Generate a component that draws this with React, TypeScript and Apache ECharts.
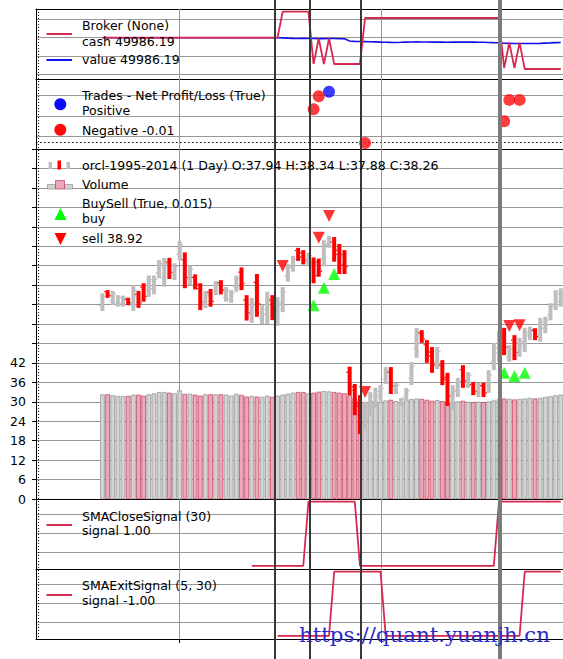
import React, { useEffect, useRef } from "react";
import * as echarts from "echarts";

// ---------------- data ----------------
const opens = [37.53,37.89,37.65,37.59,37.59,37.69,37.59,37.82,38.01,37.93,37.97,38.38,38.25,38.66,38.32,38.86,38.72,38.21,38.26,37.97,37.60,37.87,37.91,38.12,37.74,37.70,38.02,38.40,37.67,37.28,38.13,37.20,37.30,37.67,37.23,37.56,38.29,38.53,38.96,38.90,38.66,38.65,38.66,38.75,39.12,39.18,38.97,38.85,35.79,35.33,35.00,34.51,34.85,35.03,35.17,35.62,35.79,35.32,34.98,35.15,35.64,36.40,36.82,36.51,36.32,36.05,35.98,35.61,35.01,35.30,35.86,35.51,35.47,35.26,35.45,35.44,36.06,36.30,36.81,36.20,36.63,36.35,36.51,36.74,36.88,36.78,36.94,37.28,37.57,37.64];
const highs = [37.85,37.93,37.91,37.80,37.79,37.73,38.06,37.91,38.11,38.31,38.31,38.71,38.77,38.77,38.63,39.21,38.91,38.57,38.34,38.11,37.91,37.96,38.17,38.19,38.01,37.93,38.31,38.52,37.80,37.73,38.35,37.54,37.89,37.80,37.75,38.01,38.61,38.82,39.03,38.97,38.90,38.78,38.75,39.23,39.34,39.31,39.13,38.97,35.94,35.49,35.20,35.03,35.28,35.39,35.46,35.93,35.93,35.52,35.13,35.39,36.06,36.95,36.89,36.63,36.45,36.45,36.11,35.78,35.46,35.65,35.98,35.80,35.54,35.52,35.52,35.85,36.56,36.87,36.95,36.50,36.76,36.69,36.95,36.98,36.94,37.21,37.24,37.59,37.93,37.98];
const lows = [37.39,37.73,37.54,37.50,37.50,37.54,37.39,37.47,37.63,37.76,37.82,38.24,38.02,38.22,38.19,38.71,37.98,38.06,37.95,37.41,37.46,37.50,37.80,37.82,37.63,37.60,37.89,37.93,37.14,37.08,37.24,37.05,37.05,37.15,37.00,37.36,38.15,38.41,38.69,38.60,38.55,38.11,38.28,38.55,39.03,38.67,38.35,38.35,35.20,34.68,34.19,34.29,34.66,34.87,35.05,35.49,35.23,35.23,34.92,35.05,35.46,36.17,36.56,36.04,35.78,35.88,35.46,34.92,34.81,35.15,35.39,35.39,35.20,35.15,35.15,35.26,35.85,36.06,36.24,36.07,36.11,36.20,36.32,36.63,36.63,36.59,36.81,37.15,37.41,37.50];
const closes = [37.76,37.79,37.84,37.74,37.73,37.60,37.93,37.60,37.77,38.20,38.21,38.62,38.62,38.39,38.54,39.11,38.26,38.47,38.07,37.62,37.82,37.64,38.10,37.93,37.93,37.86,38.23,38.11,37.34,37.60,37.57,37.44,37.72,37.35,37.60,37.88,38.52,38.74,38.79,38.71,38.83,38.31,38.42,39.09,39.28,38.86,38.58,38.54,35.42,34.92,34.49,34.88,35.16,35.29,35.38,35.84,35.44,35.46,35.09,35.32,35.94,36.79,36.66,36.22,35.98,36.34,35.66,35.18,35.33,35.55,35.57,35.72,35.30,35.45,35.26,35.73,36.42,36.71,36.45,36.41,36.31,36.59,36.82,36.91,36.72,37.09,37.15,37.50,37.83,37.88];
const volumes = [32.3,32.3,32.0,31.8,31.8,31.8,32.2,32.2,31.9,32.3,32.6,33.0,33.0,32.8,32.6,33.5,32.4,32.5,32.2,31.9,32.3,32.3,32.3,32.3,32.2,31.9,32.5,32.1,31.6,31.8,31.6,31.5,31.9,31.5,31.9,32.2,32.5,32.8,33.0,33.0,32.6,32.8,33.1,33.3,33.2,33.0,32.8,32.6,32.0,31.2,30.0,29.8,29.9,30.2,30.0,30.4,30.6,30.2,30.0,30.5,30.8,31.0,30.9,30.6,30.3,30.5,30.2,29.9,29.9,30.1,30.3,30.0,29.9,30.0,29.9,30.1,30.4,30.8,31.0,30.9,30.7,30.9,31.0,31.2,31.0,31.2,31.5,31.7,32.0,32.2];
const cashValues = [50000,50000,50000,50000,50000,50000,50000,50000,50000,50000,50000,50000,50000,50000,50000,50000,50000,50000,50000,50000,50000,50000,50000,50000,50000,50000,50000,50000,50000,50000,50000,50000,50000,50000,50000,50035.5,50035.5,50035.5,50035.5,50035.5,50035.5,49964.1,49998.9,49964.1,49998.9,49964.1,49964.1,49964.1,49964.1,49964.1,49964.1,50026.9,50026.9,50026.9,50026.9,50026.9,50026.9,50026.9,50026.9,50026.9,50026.9,50026.9,50026.9,50026.9,50026.9,50026.9,50026.9,50026.9,50026.9,50026.9,50026.9,50026.9,50026.9,50026.9,50026.9,50026.9,50026.9,50026.9,49958.7,49993.2,49958.7,49993.2,49957.3,49957.3,49957.3,49957.3,49957.3,49957.3,49957.3,49957.3];
const portfolioValues = [50000,50000,50000,50000,50000,50000,50000,50000,50000,50000,50000,50000,50000,50000,50000,50000,50000,50000,50000,50000,50000,50000,50000,50000,50000,50000,50000,50000,50000,50000,50000,50000,50000,50000,50000,49999.8,49999.4,49999.1,49999.0,49999.2,49999.0,49998.9,49998.8,49998.8,49999.0,49998.9,49998.6,49998.5,49995.5,49995.0,49994.8,49994.7,49994.4,49994.3,49994.0,49993.8,49993.6,49993.5,49993.7,49994.0,49994.2,49994.3,49994.2,49994.1,49994.0,49994.0,49993.9,49993.8,49993.9,49994.0,49994.1,49994.0,49993.9,49993.8,49993.7,49993.5,49993.3,49993.2,49992.4,49992.2,49992.0,49992.1,49992.0,49992.0,49992.1,49992.3,49992.6,49992.9,49993.3,49993.5];
const CLOSE_SIGNAL_START = 29;
const closeSignal = [-1,-1,-1,-1,-1,-1,-1,-1,-1,-1,-1,1,1,1,1,1,1,1,1,1,1,-1,-1,-1,-1,-1,-1,-1,-1,-1,-1,-1,-1,-1,-1,-1,-1,-1,-1,-1,-1,-1,-1,-1,-1,-1,-1,-1,1,1,1,1,1,1,1,1,1,1,1,1,1];
const EXIT_SIGNAL_START = 34;
const exitSignal = [-1,-1,-1,-1,-1,-1,-1,-1,-1,-1,-1,1,1,1,1,1,1,1,1,1,1,-1,-1,-1,-1,-1,-1,-1,-1,-1,-1,-1,-1,-1,-1,-1,-1,-1,-1,-1,-1,-1,-1,-1,-1,-1,-1,-1,1,1,1,1,1,1,1,1];
const buyIdx = [41, 43, 45, 78, 80, 82];
const buyPrice = [37.54, 37.99, 38.35, 35.78, 35.70, 35.78];
const sellIdx = [35, 42, 44, 51, 79, 81];
const sellPrice = [38.56, 39.29, 39.86, 35.28, 37.0, 37.02];
const tradeIdx = [41, 42, 44, 51, 78, 79, 81];
const tradePnl = [-0.99, -0.04, 0.29, -3.46, -1.87, -0.31, -0.31];
const volumeTickLabelMax = 42;
const moneyGridValues = [50025, 50000, 49975, 49950];
const tradeGridValues = [0, -1.5, -3];
const tradeRefLine = -3.41;
const signalGridValues = [0.6, 0, -0.6];
const dateGridIdx = [14.9, 54.2];
const eventLineIdx = [33.5, 40.3, 50.2, 77.2];

// ---------------- styling ----------------
const FONT = '"DejaVu Sans", "Noto Sans", sans-serif';
const FS = 12.5;
const CRIMSON = "#d6294f";
const BLUE = "#1010e8";
const GRID_GRAY = "#979797";
const X_MIN = -12.9;
const X_MAX = 89.43;

const baseX = (g: number, extra: any = {}) => ({
  type: "value",
  gridIndex: g,
  min: X_MIN,
  max: X_MAX,
  axisLine: { show: true, onZero: false, lineStyle: { color: "#000", width: 1 } },
  axisTick: { show: false },
  axisLabel: { show: false },
  splitLine: { show: false },
  ...extra,
});
const plainY = (g: number, min: number, max: number) => ({
  type: "value",
  gridIndex: g,
  min,
  max,
  axisLine: { show: true, onZero: false, lineStyle: { color: "#000", width: 1 } },
  axisTick: { show: false },
  axisLabel: { show: false },
  splitLine: { show: false },
});

const snap = (v: number) => Math.round(v - 0.5) + 0.5;

export default function App() {
  const ref = useRef<HTMLDivElement>(null);
  useEffect(() => {
    const el = ref.current as HTMLDivElement;
    const chart = echarts.init(el, null, { renderer: "svg" });
    const priceData = opens.map((o, i) => [i, o, highs[i], lows[i], closes[i]]);
    const option: any = {
      animation: false,
      backgroundColor: "#fff",
      grid: [
        { left: 36, top: 9, width: 527, height: 70 },
        { left: 36, top: 79, width: 527, height: 70 },
        { left: 36, top: 149, width: 527, height: 350 },
        { left: 36, top: 499, width: 527, height: 70 },
        { left: 36, top: 569, width: 527, height: 70 },
      ],
      xAxis: [baseX(0), baseX(1), baseX(2), baseX(3), baseX(4), baseX(0, { position: "top" })],
      yAxis: [
        plainY(0, 49943.67, 50039.15),
        plainY(1, -3.9, 1.22),
        {
          type: "value",
          gridIndex: 2,
          min: 0,
          max: 108,
          interval: 6,
          axisLine: { show: true, onZero: false, lineStyle: { color: "#000", width: 1 } },
          axisTick: { show: true, inside: false, length: 4, lineStyle: { color: "#000" } },
          axisLabel: {
            show: true,
            margin: 10,
            fontSize: FS,
            fontFamily: FONT,
            color: "#000",
            formatter: (v: number) => (v <= volumeTickLabelMax ? String(v) : ""),
          },
          splitLine: { show: true, lineStyle: { color: GRID_GRAY, width: 1, type: "solid" } },
        },
        { type: "value", gridIndex: 2, min: 32.5, max: 41.6, show: false },
        plainY(3, -1.1, 1.085),
        plainY(4, -1.1, 1.085),
      ],
      series: [
        {
          type: "line",
          xAxisIndex: 0,
          yAxisIndex: 0,
          data: portfolioValues.map((v, i) => [i, v]),
          symbol: "none",
          lineStyle: { color: BLUE, width: 1.6 },
          z: 2,
        },
        {
          type: "line",
          xAxisIndex: 0,
          yAxisIndex: 0,
          data: cashValues.map((v, i) => [i, v]),
          symbol: "none",
          lineStyle: { color: CRIMSON, width: 1.8 },
          z: 3,
        },
        {
          type: "scatter",
          xAxisIndex: 1,
          yAxisIndex: 1,
          data: tradeIdx.map((x, k) => [x, tradePnl[k]]).filter((d) => d[1] > 0),
          symbol: "circle",
          symbolSize: 12,
          itemStyle: { color: "#0a0aff" },
          z: 4,
        },
        {
          type: "scatter",
          xAxisIndex: 1,
          yAxisIndex: 1,
          data: tradeIdx.map((x, k) => [x, tradePnl[k]]).filter((d) => d[1] <= 0),
          symbol: "circle",
          symbolSize: 12,
          itemStyle: { color: "#ff0a0a" },
          z: 4,
        },
        {
          type: "bar",
          xAxisIndex: 2,
          yAxisIndex: 2,
          barWidth: 4.6,
          data: volumes.map((v, i) => {
            const up = closes[i] >= opens[i];
            return {
              value: [i, v],
              itemStyle: up
                ? { color: "#d3d3d3", borderColor: "#8f8f8f", borderWidth: 0.7 }
                : { color: "#eaaab8", borderColor: "#c6385a", borderWidth: 0.7 },
            };
          }),
          z: 2,
        },
        {
          type: "custom",
          xAxisIndex: 2,
          yAxisIndex: 3,
          data: priceData,
          encode: { x: 0, y: [1, 2, 3, 4] },
          renderItem: (params: any, api: any) => {
            const i = api.value(0);
            const o = api.value(1);
            const h = api.value(2);
            const l = api.value(3);
            const c = api.value(4);
            const pH = api.coord([i, h]);
            const pL = api.coord([i, l]);
            const pO = api.coord([i, o]);
            const pC = api.coord([i, c]);
            const color = c >= o ? "#bebebe" : "#ff0000";
            const w = 4;
            return {
              type: "group",
              children: [
                { type: "rect", shape: { x: pH[0] - w / 2, y: pH[1], width: w, height: Math.max(1, pL[1] - pH[1]) }, style: { fill: color } },
                { type: "rect", shape: { x: pO[0] - w / 2 - 1.4, y: pO[1] - 0.6, width: 1.4, height: 1.2 }, style: { fill: color } },
                { type: "rect", shape: { x: pC[0] + w / 2, y: pC[1] - 0.6, width: 1.4, height: 1.2 }, style: { fill: color } },
              ],
            };
          },
          z: 3,
        },
        {
          type: "scatter",
          xAxisIndex: 2,
          yAxisIndex: 3,
          data: buyIdx.map((x, k) => [x, buyPrice[k]]),
          symbol: "triangle",
          symbolSize: [12, 12],
          itemStyle: { color: "#00ff00" },
          z: 5,
        },
        {
          type: "scatter",
          xAxisIndex: 2,
          yAxisIndex: 3,
          data: sellIdx.map((x, k) => [x, sellPrice[k]]),
          symbol: "triangle",
          symbolRotate: 180,
          symbolSize: [12, 12],
          itemStyle: { color: "#ff0000" },
          z: 5,
        },
        {
          type: "line",
          xAxisIndex: 3,
          yAxisIndex: 4,
          data: closeSignal.map((v, k) => [CLOSE_SIGNAL_START + k, v]),
          symbol: "none",
          lineStyle: { color: CRIMSON, width: 1.8 },
          z: 3,
        },
        {
          type: "line",
          xAxisIndex: 4,
          yAxisIndex: 5,
          data: exitSignal.map((v, k) => [EXIT_SIGNAL_START + k, v]),
          symbol: "none",
          lineStyle: { color: CRIMSON, width: 1.8 },
          z: 3,
        },
      ],
    };
    chart.setOption(option);

    const px = (v: number) => chart.convertToPixel({ xAxisIndex: 0 }, v) as number;
    const py = (axis: number, v: number) => chart.convertToPixel({ yAxisIndex: axis }, v) as number;
    const xL = px(X_MIN);
    const xR = px(X_MAX);
    const topY = py(0, 50039.15);
    const botY = py(5, -1.1);
    const H = el.clientHeight;

    const els: any[] = [];
    const hgrid = (yRaw: number) => {
      const y = Math.round(yRaw - 0.5);
      els.push({ type: "rect", silent: true, z: 1, shape: { x: xL + 1, y, width: xR - xL - 1, height: 1 }, style: { fill: GRID_GRAY } });
    };
    moneyGridValues.forEach((v) => hgrid(py(0, v)));
    tradeGridValues.forEach((v) => hgrid(py(1, v)));
    signalGridValues.forEach((v) => {
      hgrid(py(4, v));
      hgrid(py(5, v));
    });
    const yRef = snap(py(1, tradeRefLine));
    els.push({ type: "line", silent: true, z: 1, shape: { x1: xL, y1: yRef, x2: xR, y2: yRef }, style: { stroke: "#000", lineWidth: 1, lineDash: [1.5, 2.5] } });
    dateGridIdx.forEach((d) => {
      const x = Math.round(px(d) - 0.5);
      els.push({ type: "rect", silent: true, z: 1, shape: { x, y: topY, width: 1, height: botY - topY }, style: { fill: GRID_GRAY } });
      els.push({ type: "rect", silent: true, z: 1, shape: { x, y: botY, width: 1, height: 4 }, style: { fill: "#000" } });
    });
    els.push({ type: "line", silent: true, z: 6, shape: { x1: snap(xL + 2.5), y1: topY, x2: snap(xL + 2.5), y2: botY }, style: { stroke: "#000", lineWidth: 1, lineDash: [1, 2] } });
    eventLineIdx.forEach((d, k) => {
      const x = Math.round(px(d));
      const last = k === eventLineIdx.length - 1;
      const w = last ? 4 : 2;
      els.push({
        type: "rect",
        silent: true,
        z: 30,
        shape: { x: x - w / 2, y: 0, width: w, height: H },
        style: { fill: last ? "#7b7b7b" : "#383838" },
      });
    });

    const text = (t: string, x: number, y: number) =>
      els.push({ type: "text", z: 40, x, y, style: { text: t, fill: "#000", fontSize: FS, fontFamily: FONT, verticalAlign: "middle" } });
    const lineIcon = (y: number, color: string) =>
      els.push({ type: "rect", z: 40, shape: { x: 46.5, y: y - 1, width: 25.5, height: 2 }, style: { fill: color } });

    lineIcon(34, CRIMSON);
    text("Broker (None)", 82, 25);
    text("cash 49986.19", 82, 41);
    lineIcon(60, BLUE);
    text("value 49986.19", 82, 59.7);
    text("Trades - Net Profit/Loss (True)", 82, 95.7);
    els.push({ type: "circle", z: 40, shape: { cx: 60.3, cy: 104.3, r: 6 }, style: { fill: "#0a0aff" } });
    text("Positive", 82, 110.7);
    els.push({ type: "circle", z: 40, shape: { cx: 60.3, cy: 129.7, r: 6 }, style: { fill: "#ff0a0a" } });
    text("Negative -0.01", 82, 130);
    els.push({ type: "rect", z: 40, shape: { x: 48.5, y: 162, width: 3.5, height: 7 }, style: { fill: "#bebebe" } });
    els.push({ type: "rect", z: 40, shape: { x: 57.5, y: 160.5, width: 3.5, height: 9 }, style: { fill: "#ff0000" } });
    els.push({ type: "rect", z: 40, shape: { x: 66.5, y: 162, width: 3.5, height: 7 }, style: { fill: "#bebebe" } });
    text("orcl-1995-2014 (1 Day) O:37.94 H:38.34 L:37.88 C:38.26", 82, 165.7);
    els.push({ type: "rect", z: 40, shape: { x: 47.5, y: 184.5, width: 8, height: 4.5 }, style: { fill: "#d3d3d3", stroke: "#8f8f8f", lineWidth: 0.7 } });
    els.push({ type: "rect", z: 40, shape: { x: 64.5, y: 184.5, width: 8, height: 4.5 }, style: { fill: "#d3d3d3", stroke: "#8f8f8f", lineWidth: 0.7 } });
    els.push({ type: "rect", z: 41, shape: { x: 55.5, y: 180.5, width: 9, height: 8.5 }, style: { fill: "#eaaab8", stroke: "#c6385a", lineWidth: 0.7 } });
    text("Volume", 82, 184.7);
    text("BuySell (True, 0.015)", 82, 203.4);
    els.push({ type: "polygon", z: 40, shape: { points: [[54.5, 220], [66.5, 220], [60.5, 208]] }, style: { fill: "#00ff00" } });
    text("buy", 82, 218.4);
    els.push({ type: "polygon", z: 40, shape: { points: [[54.5, 233], [66.5, 233], [60.5, 245]] }, style: { fill: "#ff0000" } });
    text("sell 38.92", 82, 238);
    lineIcon(525, CRIMSON);
    text("SMACloseSignal (30)", 82, 516.4);
    text("signal 1.00", 82, 530.7);
    lineIcon(595, CRIMSON);
    text("SMAExitSignal (5, 30)", 82, 585.7);
    text("signal -1.00", 82, 600.7);
    els.push({
      type: "text",
      z: 50,
      x: 299,
      y: 634.7,
      style: { text: "https://quant.yuanjh.cn", fill: "#2a2ac8", fontSize: 21.3, fontFamily: '"DejaVu Serif", serif', verticalAlign: "middle" },
    });

    chart.setOption({ graphic: { elements: els } });
    return () => chart.dispose();
  }, []);
  return <div ref={ref} style={{ position: "fixed", left: 0, top: 0, width: 563, height: 659, background: "#fff" }} />;
}
